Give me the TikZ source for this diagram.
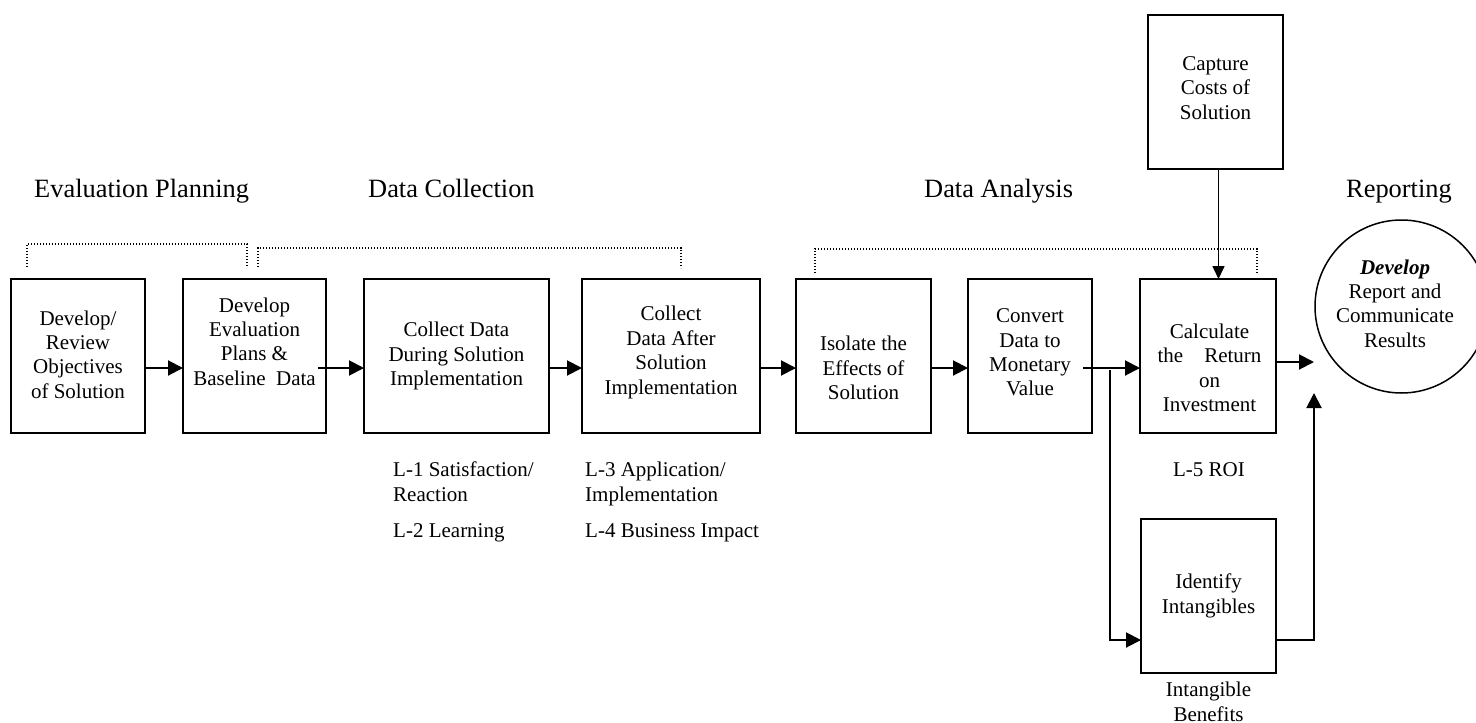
\documentclass[tikz,border=0pt]{standalone}
\usepackage{fontspec}
\setmainfont{Liberation Serif}
\usetikzlibrary{arrows.meta,calc}

\begin{document}
\begin{tikzpicture}[x=1pt,y=-1pt,
  box/.style={draw,line width=2pt,rectangle,inner sep=0pt,outer sep=0pt,minimum height=154pt},
  txt/.style={align=center,font=\fontsize{21}{24.4}\selectfont,inner sep=0pt},
  lbl/.style={align=left,font=\fontsize{21}{24.4}\selectfont,inner sep=0pt,anchor=base west},
  head/.style={font=\fontsize{26.4}{30}\selectfont,inner sep=0pt,anchor=base west},
  arr/.style={line width=2pt,-{Triangle[length=15pt,width=15pt]}},
  arrs/.style={line width=1.6pt,-{Triangle[length=13pt,width=12pt]}},
  bracket/.style={line width=1.2pt,dash pattern=on 1.2pt off 1.8pt},
]
\useasboundingbox (0,0) rectangle (1476,723);

% phase headings
\node[head] (hplan) at (34,197) {Evaluation Planning};
\node[head] (hcoll) at (368,197) {Data Collection};
\node[head] (hanal) at (924,197) {Data Analysis};
\node[head] (hrep)  at (1346,197) {Reporting};

% phase brackets
\draw[bracket] (27,267) -- (27,244) -- (247,244) -- (247,267);
\draw[bracket] (258,267) -- (258,248) -- (681,248) -- (681,268);
\draw[bracket] (815,273) -- (815,249) -- (1257,249) -- (1257,273);

% process boxes
\node[box,minimum width=134pt] (b1) at (78,356) {};
\node[box,minimum width=143pt] (b2) at (254.5,356) {};
\node[box,minimum width=185pt] (b3) at (456.5,356) {};
\node[box,minimum width=178pt] (b4) at (671,356) {};
\node[box,minimum width=135pt] (b5) at (863.5,356) {};
\node[box,minimum width=124pt] (b6) at (1030,356) {};
\node[box,minimum width=136pt] (b7) at (1208,356) {};
\node[box,minimum width=135pt] (cap) at (1215.5,92) {};
\node[box,minimum width=135pt] (idf) at (1208.5,596) {};
\node[draw,circle,line width=1.5pt,minimum size=173pt,inner sep=0pt,outer sep=0pt] (rep) at (1401.5,306.5) {};

% box texts
\node[txt] (t1) at (78,354.5) {Develop/\\Review\\Objectives\\of Solution};
\node[txt] (t2) at (254.5,341.5) {Develop\\Evaluation\\Plans \&\\Baseline\ \ Data};
\node[txt] (t3) at (456.5,356) {Collect Data\\During Solution\\Implementation};
\node[txt] (t4) at (671,352.5) {Collect\\Data After\\Solution\\Implementation};
\node[txt] (t5) at (863.5,368) {Isolate the\\Effects of\\Solution};
\node[txt] (t6) at (1030,352.5) {Convert\\Data to\\Monetary\\Value};
\node[txt] (t7) at (1209.5,368) {Calculate\\the\hspace{21pt}Return\\on\\Investment};
\node[txt] (tcap) at (1215.5,88) {Capture\\Costs of\\Solution};
\node[txt] (tidf) at (1208.5,596) {Identify\\Intangibles};
\node[txt] (trep) at (1395,303.5) {\textbf{\textit{Develop}}\\Report and\\Communicate\\Results};

% level labels (base anchor sits on the last line)
\node[lbl] (l1) at (393,501) {L-1 Satisfaction/\\Reaction};
\node[lbl] (l2) at (393,537) {L-2 Learning};
\node[lbl] (l3) at (585,501) {L-3 Application/\\Implementation};
\node[lbl] (l4) at (585,537) {L-4 Business Impact};
\node[txt,anchor=base] (l5) at (1209,476) {L-5 ROI};
\node[txt,anchor=base] (lint) at (1208.5,721) {Intangible\\Benefits};

% connector guide coordinates
\coordinate (row) at (0,368);
\coordinate (hi) at (0,362);
\coordinate (low) at (0,640);
\coordinate (b2out) at (318,368);
\coordinate (b6out) at (1083,368);
\coordinate (jd) at (1110,370);
\coordinate (cin) at (1314,362);
\coordinate (rin) at (1314,393);
\coordinate (capx) at (1218.5,0);

% flow arrows
\draw[arr] (b1.east |- row) -- (b2.west |- row);
\draw[arr] (b2out) -- (b3.west |- row);
\draw[arr] (b3.east |- row) -- (b4.west |- row);
\draw[arr] (b4.east |- row) -- (b5.west |- row);
\draw[arr] (b5.east |- row) -- (b6.west |- row);
\draw[arr] (b6out) -- (b7.west |- row);
\draw[arr] (jd) |- (idf.west |- low);
\draw[arr] (idf.east |- low) -| (rin);
\draw[arr] (b7.east |- hi) -- (cin);
\draw[arrs] (cap.south -| capx) -- (b7.north -| capx);
\end{tikzpicture}
\end{document}
